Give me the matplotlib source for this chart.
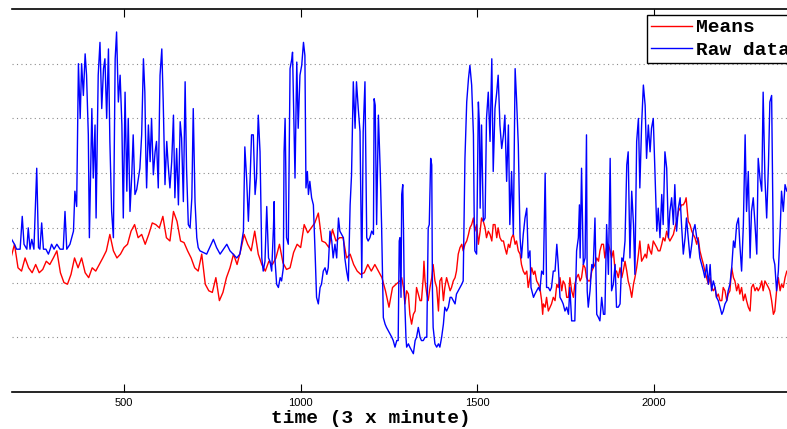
import matplotlib
matplotlib.use("Agg")
import matplotlib.pyplot as plt

# time index (3 x minute), only the part that shows in the picture
means_t = list(range(180, 1280, 10)) + [
    1281, 1286, 1291, 1295, 1300, 1305, 1309, 1314, 1319, 1324,
    1328, 1333, 1338, 1342, 1347, 1349, 1352, 1357, 1361, 1366,
    1371, 1375, 1380, 1385, 1390, 1394, 1399, 1404, 1408, 1413,
    1418, 1423, 1427, 1432, 1437, 1441, 1446, 1451, 1456, 1460,
    1465, 1470, 1475, 1479, 1484, 1489, 1493, 1498, 1503, 1508,
    1512, 1517, 1522, 1526, 1531, 1536, 1541, 1545, 1550, 1555,
    1559, 1564, 1569, 1574, 1578, 1583, 1588, 1592, 1597, 1602,
    1607, 1611, 1616, 1621, 1625, 1630, 1635, 1640, 1644,
    1649, 1654, 1659, 1663, 1668, 1673, 1677, 1682, 1685, 1687,
    1692, 1696, 1701, 1706, 1710, 1715, 1720, 1725, 1729, 1734,
    1739, 1743, 1748, 1753, 1758, 1762, 1767, 1772, 1776, 1781,
    1786, 1791, 1795, 1800, 1805, 1809, 1814, 1819, 1824, 1828,
    1833, 1838, 1843, 1847, 1852, 1857, 1861, 1866, 1871, 1876,
    1880, 1885, 1890, 1894, 1899, 1904, 1909, 1913, 1918, 1923,
    1927, 1932, 1937, 1942, 1946, 1951, 1956, 1960, 1965, 1970,
    1975, 1979, 1984, 1989, 1993, 1998, 2003, 2008, 2012,
    2017, 2022, 2026, 2031, 2036, 2041, 2045, 2050, 2055, 2059,
    2064, 2069, 2074, 2078, 2083, 2088, 2091, 2097, 2102, 2107,
    2111, 2116, 2121, 2125, 2130, 2135, 2140, 2144, 2149, 2154,
    2159, 2163, 2168, 2173, 2177, 2182, 2187, 2192, 2196, 2201,
    2206, 2210, 2215, 2220, 2225, 2229, 2234, 2239, 2243, 2248,
    2253, 2258, 2262, 2267, 2272, 2276, 2281, 2286, 2291, 2295,
    2300, 2305, 2309, 2314, 2319, 2324, 2328, 2333, 2338, 2342,
    2347, 2352, 2357, 2361, 2366, 2371, 2376, 2390, 2400,
]
means = [
    2.45, 2.70, 2.27, 2.21, 2.45, 2.27, 2.18, 2.33, 2.18, 2.24, 2.39, 2.33, 2.45,
    2.58, 2.18, 2.00, 1.97, 2.15, 2.45, 2.27, 2.45, 2.18, 2.09, 2.27, 2.21, 2.33,
    2.45, 2.58, 2.88, 2.58, 2.45, 2.52, 2.64, 2.70, 2.94, 3.06, 2.82,
    2.88, 2.70, 2.88, 3.09, 3.06, 3.00, 3.21, 2.82, 2.76, 3.30, 3.12, 2.76, 2.73,
    2.58, 2.45, 2.27, 2.21, 2.52, 1.97, 1.85, 1.82, 2.09, 1.67, 1.82, 2.09, 2.27,
    2.52, 2.33, 2.58, 2.88, 2.70, 2.58, 2.94, 2.52, 2.33, 2.21, 2.39,
    2.33, 2.45, 2.70, 2.36, 2.24, 2.27, 2.55, 2.70, 2.64, 3.06, 2.91, 3.00, 3.09,
    3.27, 2.76, 2.73, 2.64, 2.97, 2.76, 2.82, 2.82, 2.45, 2.52, 2.33, 2.21, 2.15,
    2.18, 2.33, 2.21, 2.33, 2.21, 2.09, 1.85, 1.55, 1.91, 1.97,
    2.03, 2.09, 1.91, 1.61, 1.85, 1.79, 1.42, 1.24, 1.42, 1.48,
    1.91, 1.79, 1.67, 1.67, 2.09, 2.39, 2.03, 1.79, 1.67, 1.91,
    2.09, 2.33, 2.03, 1.91, 1.48, 2.03, 2.09, 1.67, 1.91, 2.09,
    1.97, 1.85, 1.91, 2.03, 2.09, 2.21, 2.52, 2.64, 2.70, 2.58,
    2.70, 2.76, 2.88, 3.00, 3.06, 3.18, 2.94, 3.06, 2.70, 2.94,
    3.18, 3.12, 3.00, 2.82, 2.94, 2.88, 2.76, 3.06, 3.06, 2.82,
    3.00, 2.82, 2.76, 2.76, 2.64, 2.52, 2.70, 2.64, 2.82, 2.88,
    2.70, 2.76, 2.58, 2.52, 2.33, 2.21, 2.15, 2.21, 1.91,
    2.09, 2.27, 2.15, 2.21, 2.03, 1.97, 1.91, 1.67, 1.42, 1.61,
    1.55, 1.73, 1.48, 1.55, 1.61, 1.73, 1.67, 1.97, 1.91, 2.09,
    1.85, 2.03, 1.97, 1.73, 1.73, 2.09, 1.85, 1.73, 1.97, 2.09,
    2.15, 2.03, 2.09, 2.33, 2.27, 2.09, 2.03, 2.03, 2.21, 2.27,
    2.33, 2.45, 2.39, 2.58, 2.70, 2.70, 2.45, 2.64, 2.70, 2.58,
    2.45, 2.58, 2.21, 2.21, 2.09, 2.27, 2.09, 2.21, 2.39, 2.21,
    2.03, 1.91, 1.73, 1.97, 2.09, 2.27, 2.52, 2.76, 2.39, 2.45,
    2.52, 2.45, 2.70, 2.58, 2.52, 2.76, 2.70, 2.64, 2.58,
    2.58, 2.70, 2.82, 2.76, 2.94, 2.82, 2.76, 2.82, 2.88, 3.00,
    3.12, 3.30, 3.36, 3.42, 3.42, 3.48, 3.55, 3.12, 3.06, 2.94,
    2.88, 2.82, 2.70, 2.82, 2.58, 2.45, 2.33, 2.21, 2.09, 1.97,
    2.09, 1.91, 1.85, 1.91, 1.73, 1.79, 1.67, 1.67, 1.91, 1.85,
    1.67, 1.79, 1.85, 2.27, 2.09, 2.03, 1.85, 1.97, 1.79, 1.91,
    1.67, 1.79, 1.67, 1.55, 1.48, 1.91, 1.97, 1.85, 1.91, 1.85,
    1.91, 2.03, 1.85, 2.03, 1.97, 1.91, 1.85, 1.67, 1.42, 1.48,
    1.85, 2.09, 1.85, 1.97, 1.91, 2.09, 2.21, 2.21, 2.25,
]

raw_t = [
    182, 190, 196, 206, 212, 217, 225, 229, 234, 239,
    245, 253, 258, 262, 267, 272, 279, 286, 291, 295,
    302, 310, 319, 328, 333, 338, 347, 357, 361, 366,
    371, 376, 380, 385, 390, 394, 399, 402, 409, 413,
    418, 421, 425, 427, 432, 437, 442, 446, 451, 456,
    460, 465, 470, 475, 479, 484, 489, 494, 498, 503,
    508, 512, 517, 522, 526, 531, 536, 545,
    550, 555, 559, 562, 564, 569, 574, 578, 583, 588,
    592, 597, 602, 607, 611, 616, 621, 625, 630, 635,
    640, 644, 649, 654, 659, 663, 668, 673, 677, 682,
    687, 692, 696, 701, 706, 710, 715, 734, 753, 762,
    772, 791, 800, 819, 828, 838, 842, 847, 852, 857,
    861, 866, 871, 875, 880, 885, 890, 894, 899, 904,
    909,
    913, 918, 923, 925, 927, 932, 937, 942, 946, 951,
    953, 956, 958, 960, 965, 970, 975, 977, 979, 984,
    987, 989, 993, 998, 1003, 1008, 1012, 1015, 1019, 1022,
    1026, 1031, 1036, 1041, 1045, 1050, 1055, 1059, 1064, 1069,
    1074, 1078, 1083, 1088, 1092, 1097, 1102, 1107, 1111, 1116,
    1121, 1125, 1130, 1135, 1140, 1144, 1149, 1154, 1158, 1163,
    1168, 1173, 1177, 1182, 1187, 1191, 1196, 1201, 1206, 1208,
    1211, 1215, 1220, 1225, 1229, 1234, 1239, 1243, 1248, 1253,
    1258, 1262, 1267, 1272, 1276, 1279,
    1281, 1284, 1286, 1289, 1291, 1293, 1298, 1300, 1305, 1309,
    1314, 1319, 1324, 1328, 1333, 1338, 1342, 1347, 1352, 1357,
    1361, 1364, 1368, 1371, 1373, 1375, 1380, 1385, 1390, 1394,
    1399, 1404, 1408, 1413, 1418, 1423, 1427, 1432, 1437, 1441,
    1446, 1451, 1456, 1460, 1465, 1470, 1475, 1479, 1484, 1489,
    1491, 1493, 1498, 1503, 1506, 1508, 1512, 1517, 1522, 1526,
    1531, 1536, 1541, 1545, 1550, 1555, 1559, 1564, 1569, 1574,
    1578, 1583, 1588, 1592, 1597, 1602, 1607, 1611, 1616, 1621,
    1625, 1630, 1635, 1640, 1644,
    1649, 1652, 1659, 1663, 1668, 1673, 1677, 1682, 1687, 1692,
    1694, 1696, 1701, 1706, 1710, 1715, 1720, 1725, 1729, 1734,
    1739, 1743, 1748, 1753, 1758, 1762, 1767, 1772, 1776, 1781,
    1786, 1789, 1791, 1795, 1800, 1805, 1809, 1811, 1814, 1819,
    1824, 1828, 1833, 1838, 1843, 1847, 1852, 1857, 1861, 1866,
    1871, 1876, 1880, 1885, 1890, 1894, 1899, 1904, 1909, 1913,
    1918, 1923, 1927, 1932, 1937, 1942, 1946, 1951, 1956, 1960,
    1965, 1970, 1975, 1979, 1984, 1989, 1993, 1998, 2003, 2008,
    2012,
    2017, 2022, 2026, 2031, 2036, 2041, 2045, 2050, 2055, 2059,
    2064, 2069, 2074, 2078, 2083, 2088, 2092, 2097, 2102, 2107,
    2111, 2116, 2121, 2125, 2130, 2135, 2140, 2144, 2149, 2154,
    2159, 2163, 2168, 2173, 2177, 2182, 2187, 2192, 2196, 2201,
    2206, 2210, 2215, 2220, 2225, 2229, 2234, 2239, 2243, 2248,
    2253, 2258, 2262, 2267, 2272, 2276, 2281, 2286, 2291, 2295,
    2300, 2305, 2309, 2314, 2319, 2324, 2328, 2333, 2338, 2342,
    2347, 2352, 2357, 2361, 2366, 2371, 2376, 2390, 2400,
]
raw = [
    2.79, 2.70, 2.61, 2.61, 3.21, 2.70, 2.61, 3.00, 2.61, 2.79,
    2.61, 4.09, 2.64, 2.61, 3.09, 2.61, 2.61, 2.52, 2.61, 2.70,
    2.61, 2.70, 2.61, 2.61, 3.30, 2.61, 2.70, 2.94, 3.67, 3.39,
    6.00, 5.00, 6.00, 5.42, 6.18, 5.79, 4.70, 2.82, 5.18, 3.91,
    4.88, 3.18, 5.00, 5.79, 6.39, 5.18, 5.91, 6.09, 5.00, 6.27,
    4.58, 3.30, 2.82, 6.09, 6.58, 5.30, 5.79, 4.88, 3.18, 5.48,
    3.67, 5.00, 3.30, 3.97, 4.70, 3.61, 3.70, 4.09,
    4.70, 6.09, 5.48, 4.27, 3.73, 4.88, 4.21, 5.00, 3.97, 4.39,
    4.58, 3.73, 5.79, 6.27, 5.30, 3.79, 4.58, 4.15, 3.73, 4.21,
    5.06, 3.55, 4.45, 3.42, 4.94, 4.64, 3.48, 5.67, 4.09, 3.06,
    3.00, 3.55, 5.18, 3.48, 2.82, 2.64, 2.58, 2.52, 2.79, 2.64,
    2.52, 2.70, 2.58, 2.45, 2.52, 2.94, 4.48, 3.91, 3.12, 3.91,
    4.70, 4.70, 3.61, 3.91, 5.06, 4.39, 2.45, 2.21, 2.39, 3.39,
    2.45,
    2.39, 2.21, 3.00, 3.48, 2.45, 1.97, 1.91, 2.09, 2.03, 2.27,
    4.39, 5.00, 4.03, 2.82, 2.70, 5.91, 6.09, 6.21, 5.55, 3.91,
    5.12, 6.03, 4.82, 5.79, 5.97, 6.39, 6.15, 3.73, 4.03, 3.61,
    3.85, 3.55, 3.42, 2.52, 1.73, 1.61, 1.91, 1.97, 2.21, 2.27,
    2.15, 2.27, 2.94, 2.76, 2.45, 2.70, 2.45, 3.18, 2.94, 2.88,
    2.82, 2.45, 2.21, 2.03, 3.42, 3.97, 5.67, 4.82, 5.67, 5.18,
    4.76, 2.09, 4.76, 5.67, 2.82, 2.76, 2.82, 2.94, 2.88, 5.36,
    5.24, 3.06, 5.06, 4.09, 3.06, 1.36, 1.24, 1.18, 1.12, 1.06,
    1.00, 0.94, 0.82, 0.94, 0.94, 2.76,
    2.82, 1.73, 3.61, 3.79, 3.00, 1.97, 1.00, 0.82, 0.88, 0.82,
    0.76, 0.70, 0.94, 1.00, 1.18, 1.00, 0.94, 0.94, 1.00, 1.00,
    3.00, 3.06, 4.27, 4.15, 1.85, 1.18, 0.88, 0.82, 0.88, 0.82,
    1.00, 1.24, 1.55, 1.48, 1.55, 1.73, 1.73, 1.67, 1.61, 1.79,
    1.85, 1.91, 1.97, 2.03, 4.27, 5.30, 5.73, 5.97, 5.61, 4.70,
    3.30, 2.58, 2.52, 5.30, 4.88, 3.36, 4.88, 3.12, 3.18, 5.00,
    5.48, 4.58, 6.09, 4.03, 5.18, 5.48, 5.79, 4.88, 4.45, 4.70,
    5.06, 3.85, 4.88, 3.06, 4.03, 2.88, 5.91, 5.36, 4.52, 2.82,
    2.45, 2.88, 3.18, 3.36, 2.45,
    2.58, 1.91, 1.73, 1.79, 1.85, 1.91, 1.85, 2.21, 2.15, 4.00,
    3.06, 1.91, 1.91, 1.85, 1.91, 2.21, 2.21, 2.70, 2.33, 1.73,
    1.67, 1.61, 1.48, 1.55, 1.42, 1.91, 1.30, 1.30, 1.30, 2.58,
    2.82, 3.42, 2.45, 4.09, 2.33, 2.45, 4.70, 1.85, 1.55, 1.85,
    2.33, 2.27, 3.18, 1.42, 1.36, 1.30, 1.73, 1.42, 1.42, 3.06,
    2.15, 4.27, 1.85, 1.97, 2.33, 1.55, 1.55, 1.61, 2.45, 2.39,
    2.76, 4.15, 4.39, 2.45, 3.67, 3.06, 2.15, 4.58, 5.00, 3.73,
    4.88, 5.61, 5.24, 4.27, 4.88, 4.39, 4.82, 5.00, 3.97, 2.94,
    3.36,
    2.82, 3.61, 3.06, 4.39, 4.09, 2.82, 3.30, 3.55, 3.06, 3.79,
    2.94, 3.36, 3.55, 3.06, 2.52, 2.82, 3.18, 2.82, 2.45, 2.70,
    2.94, 3.06, 2.82, 2.76, 2.45, 2.33, 2.21, 2.09, 2.33, 1.97,
    2.33, 1.85, 2.03, 1.91, 1.73, 1.67, 1.55, 1.42, 1.48, 1.61,
    1.67, 1.85, 1.97, 2.27, 2.76, 2.64, 3.06, 3.18, 2.70, 2.21,
    3.06, 4.70, 3.30, 4.03, 2.45, 3.30, 3.55, 3.06, 2.52, 4.27,
    3.91, 3.67, 5.48, 3.91, 3.18, 4.15, 5.30, 5.42, 2.45, 2.33,
    1.85, 2.21, 2.94, 3.67, 3.30, 3.79, 3.67, 3.97, 3.50,
]

xticks = [500, 1000, 1500, 2000]

W, H = 787, 429
fig = plt.figure(figsize=(W / 100, H / 100), dpi=100)
# axes runs past the right edge of the picture, the left spine is cut off
ax = fig.add_axes([12 / W, 37 / H, 783.3 / W, 383 / H])

ax.plot(means_t, means, color='red', lw=1.0, label='Means')
ax.plot(raw_t, raw, color='blue', lw=1.0, label='Raw data')

ax.set_xlim(183, 2400)
ax.set_ylim(0, 7)
ax.set_xticks(xticks)
ax.set_xticklabels([str(x) for x in xticks], fontfamily='Liberation Sans', fontsize=8)
ax.set_yticks(range(1, 7))
ax.tick_params(axis='y', left=False, labelleft=False)
ax.tick_params(axis='x', direction='in', top=True, length=6, width=0.8, pad=4)
ax.yaxis.grid(True, linestyle=(0, (1, 3)), color='0.55', lw=0.8)

ax.spines['left'].set_visible(False)
ax.spines['right'].set_visible(False)
for s in ['top', 'bottom']:
    ax.spines[s].set_linewidth(1.2)

ax.set_xlabel('time (3 x minute)', fontfamily='Liberation Mono', fontweight='bold', fontsize=14)
ax.xaxis.set_label_coords(0.458, -0.048)

leg = ax.legend(loc='upper left', bbox_to_anchor=(647 / W, 1 - 15 / H),
                bbox_transform=fig.transFigure,
                prop=dict(family='Liberation Mono', weight='bold', size=14),
                fancybox=False, edgecolor='black', framealpha=1,
                borderpad=0.2, labelspacing=0.25, handlelength=2.1,
                handletextpad=0.2, borderaxespad=0)
leg.get_frame().set_linewidth(1.0)

fig.savefig('out.png', dpi=100)
